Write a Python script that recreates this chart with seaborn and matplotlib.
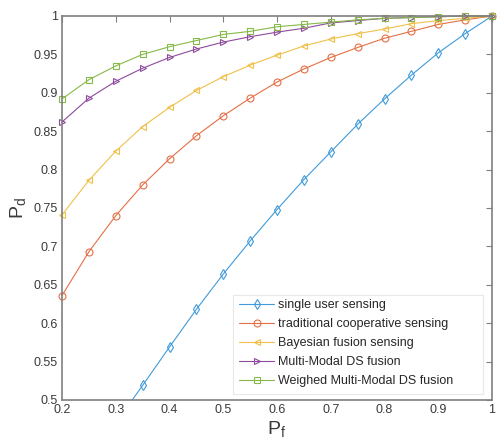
import numpy as np
import pandas as pd
import matplotlib
matplotlib.use("Agg")
import matplotlib.pyplot as plt
from matplotlib.patches import Rectangle
import seaborn as sns

pf = [0.2, 0.25, 0.3, 0.35, 0.4, 0.45, 0.5, 0.55, 0.6, 0.65, 0.7, 0.75, 0.8, 0.85, 0.9, 0.95, 1.0]
single_user = [0.365, 0.418, 0.470, 0.519, 0.569, 0.618, 0.664, 0.707, 0.748, 0.787, 0.823, 0.859, 0.892, 0.923, 0.952, 0.977, 1.0]
traditional = [0.636, 0.693, 0.740, 0.780, 0.814, 0.844, 0.870, 0.893, 0.914, 0.931, 0.946, 0.959, 0.971, 0.980, 0.989, 0.995, 1.0]
bayesian = [0.741, 0.786, 0.824, 0.856, 0.881, 0.903, 0.921, 0.936, 0.949, 0.961, 0.970, 0.977, 0.983, 0.990, 0.994, 0.997, 1.0]
multimodal = [0.862, 0.893, 0.915, 0.932, 0.946, 0.957, 0.966, 0.973, 0.979, 0.984, 0.991, 0.994, 0.997, 0.998, 0.999, 1.0, 1.0]
weighed = [0.892, 0.917, 0.935, 0.950, 0.960, 0.968, 0.976, 0.980, 0.986, 0.989, 0.992, 0.995, 0.997, 0.998, 0.999, 1.0, 1.0]

labels = ["single user sensing", "traditional cooperative sensing", "Bayesian fusion sensing",
          "Multi-Modal DS fusion", "Weighed Multi-Modal DS fusion"]
series = [single_user, traditional, bayesian, multimodal, weighed]
colors = ["#3f9bdb", "#e56f45", "#f1c04a", "#8e4a9c", "#86ba48"]
markers = ["d", "o", "<", ">", "s"]

xticks = [0.2, 0.3, 0.4, 0.5, 0.6, 0.7, 0.8, 0.9, 1.0]
xticklabels = ["0.2", "0.3", "0.4", "0.5", "0.6", "0.7", "0.8", "0.9", "1"]
yticks = [0.5, 0.55, 0.6, 0.65, 0.7, 0.75, 0.8, 0.85, 0.9, 0.95, 1.0]
yticklabels = ["0.5", "0.55", "0.6", "0.65", "0.7", "0.75", "0.8", "0.85", "0.9", "0.95", "1"]

sns.set_style("white")
plt.rcParams["font.family"] = ["Liberation Sans", "DejaVu Sans"]
plt.rcParams["mathtext.fontset"] = "custom"
plt.rcParams["mathtext.rm"] = "Liberation Sans"
plt.rcParams["mathtext.it"] = "Liberation Sans"

fig = plt.figure(figsize=(4.98, 4.43), dpi=100)
ax = fig.add_axes([62/498, 43/443, 430/498, 384/443])

for lab, ys, c, m in zip(labels, series, colors, markers):
    df = pd.DataFrame({"Pf": pf, "Pd": ys})
    sns.lineplot(data=df, x="Pf", y="Pd", ax=ax, color=c, marker=m, markersize=5,
                 markerfacecolor="none", markeredgecolor=c, markeredgewidth=0.8,
                 linewidth=0.8, label=lab, clip_on=(lab == labels[0]))

ax.set_xlim(0.2, 1.0)
ax.set_ylim(0.5, 1.0)
ax.set_xticks(xticks)
ax.set_xticklabels(xticklabels)
ax.set_yticks(yticks)
ax.set_yticklabels(yticklabels)
ax.tick_params(direction="in", length=4, width=0.8, color="#808080", labelcolor="#3a3a3a",
               labelsize=9, pad=3, top=True, right=True, labeltop=False, labelright=False)
for s in ax.spines.values():
    s.set_color("#7f7f7f")
    s.set_linewidth(1.2)
    s.set_visible(True)

ax.set_xlabel("P$_\\mathrm{f}$", fontsize=14, color="#3a3a3a", labelpad=2)
ax.set_ylabel("P$_\\mathrm{d}$", fontsize=14, color="#3a3a3a", labelpad=4)

# legend frame (MATLAB-style, with extra space on the right)
frame = Rectangle(((233 - 62) / 430, (400 - 394) / 384), 250 / 430, 99 / 384,
                  transform=ax.transAxes, facecolor="white", edgecolor="#e8e8e8",
                  linewidth=0.8, zorder=4)
ax.add_patch(frame)

leg = ax.legend(loc="upper left", fontsize=9, frameon=False,
                handlelength=2.8, handletextpad=0.3, borderpad=0,
                labelspacing=0.56, borderaxespad=0,
                bbox_to_anchor=((239 - 62) / 430, (400 - 299) / 384))
leg.set_zorder(5)
for t in leg.get_texts():
    t.set_color("#262626")

fig.savefig("out.png", dpi=100)
